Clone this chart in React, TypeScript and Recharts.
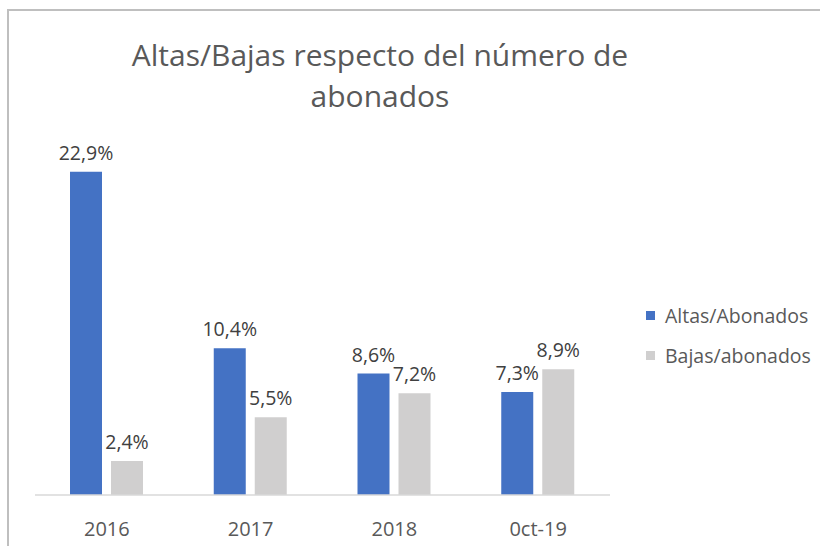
import { Bar, BarChart, LabelList, XAxis, YAxis } from "recharts";

const categories = ["2016", "2017", "2018", "0ct-19"];
const altas = [22.9, 10.4, 8.6, 7.3];
const bajas = [2.4, 5.5, 7.2, 8.9];
const seriesNames = ["Altas/Abonados", "Bajas/abonados"];

const chartData = categories.map((name, i) => ({
  name,
  altas: altas[i],
  bajas: bajas[i],
}));

const font = "'Open Sans', 'Noto Sans', sans-serif";
const blue = "#4472C4";
const gray = "#D0CFCF";
const textColor = "#595959";

const pct = (v: number) => `${v.toFixed(1).replace(".", ",")}%`;

export default function App() {
  return (
    <div
      style={{
        position: "absolute",
        left: 0,
        top: 0,
        width: 820,
        height: 546,
        background: "#fff",
        fontFamily: font,
        overflow: "hidden",
      }}
    >
      {/* chart frame, only left and top edges are visible */}
      <div
        style={{
          position: "absolute",
          left: 7,
          top: 9,
          width: 900,
          height: 600,
          borderLeft: "2px solid #bfbfbf",
          borderTop: "2px solid #bfbfbf",
        }}
      />

      <div
        style={{
          position: "absolute",
          left: 80,
          width: 600,
          top: 34,
          textAlign: "center",
          fontSize: 30,
          lineHeight: "41px",
          color: textColor,
        }}
      >
        Altas/Bajas respecto del número de
        <br />
        abonados
      </div>

      <div style={{ position: "absolute", left: 0, top: 0 }}>
        <BarChart
          width={820}
          height={546}
          data={chartData}
          margin={{ top: 142, right: 210, bottom: 1, left: 35 }}
          barCategoryGap={35}
          barGap={9}
        >
          <XAxis
            dataKey="name"
            height={50}
            axisLine={{ stroke: "#d9d9d9", strokeWidth: 1.5 }}
            tickLine={false}
            tickMargin={21}
            tick={{ fill: textColor, fontSize: 20, fontFamily: font }}
          />
          <YAxis hide domain={[0, 25]} />
          <Bar dataKey="altas" fill={blue} isAnimationActive={false}>
            <LabelList
              dataKey="altas"
              position="top"
              offset={12}
              formatter={(v: any) => pct(Number(v))}
              style={{ fill: "#404040", fontSize: 19.5, fontFamily: font }}
            />
          </Bar>
          <Bar dataKey="bajas" fill={gray} isAnimationActive={false}>
            <LabelList
              dataKey="bajas"
              position="top"
              offset={12}
              formatter={(v: any) => pct(Number(v))}
              style={{ fill: "#404040", fontSize: 19.5, fontFamily: font }}
            />
          </Bar>
        </BarChart>
      </div>

      <div style={{ position: "absolute", left: 646, top: 301 }}>
        {seriesNames.map((n, i) => (
          <div
            key={n}
            style={{
              display: "flex",
              alignItems: "center",
              height: 28,
              marginBottom: 12,
              fontSize: 19.5,
              color: textColor,
              whiteSpace: "nowrap",
            }}
          >
            <span
              style={{
                display: "inline-block",
                width: 9,
                height: 9,
                background: i === 0 ? blue : gray,
                marginRight: 10,
              }}
            />
            {n}
          </div>
        ))}
      </div>
    </div>
  );
}
